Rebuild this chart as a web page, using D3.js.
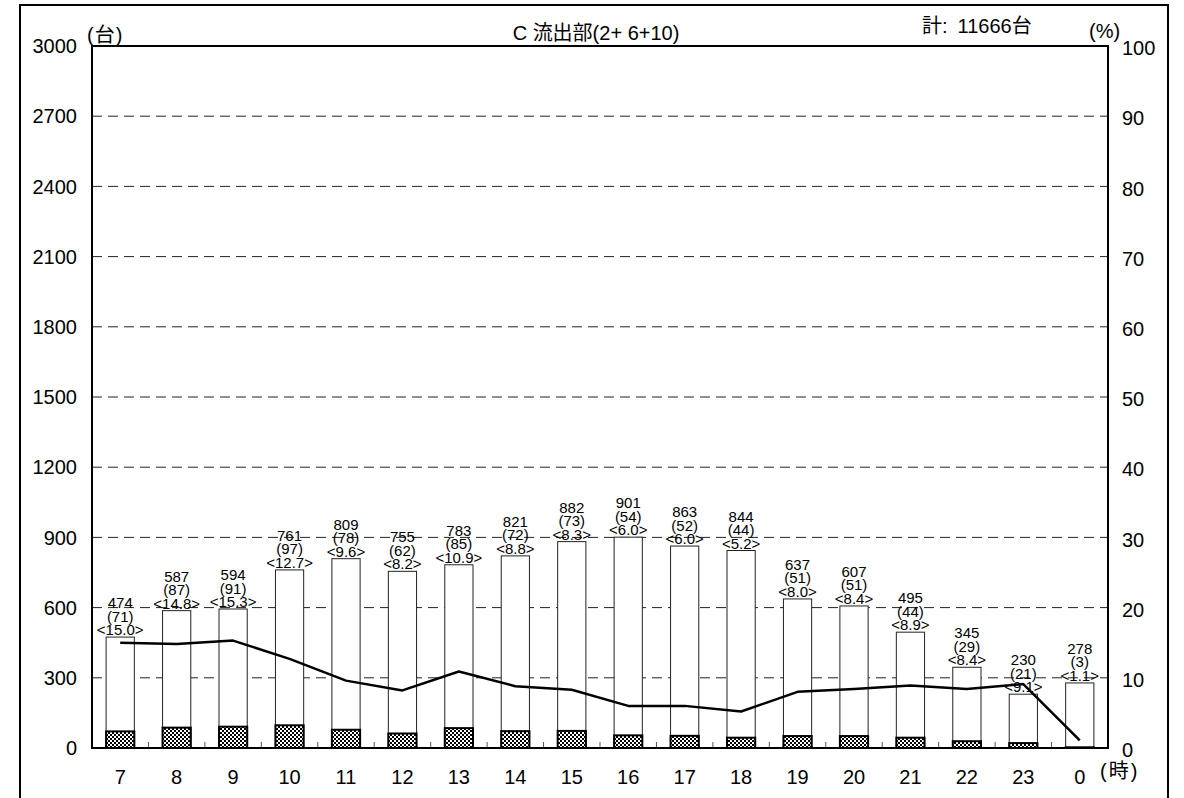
<!DOCTYPE html>
<html><head><meta charset="utf-8">
<script src="https://cdn.jsdelivr.net/npm/d3@7"></script>
<style>
html,body{margin:0;padding:0;background:#fff;}
text{font-family:"Liberation Sans",Arial,"Noto Sans CJK JP",sans-serif;fill:#000;}
</style></head>
<body><svg id="c" width="1184" height="798"></svg>
<script>
const hours = ["7","8","9","10","11","12","13","14","15","16","17","18","19","20","21","22","23","0"];
const totals = [474,587,594,761,809,755,783,821,882,901,863,844,637,607,495,345,230,278];
const large = [71,87,91,97,78,62,85,72,73,54,52,44,51,51,44,29,21,3];
const pct = [15.0,14.8,15.3,12.7,9.6,8.2,10.9,8.8,8.3,6.0,6.0,5.2,8.0,8.4,8.9,8.4,9.1,1.1];
const leftTicks = [0,300,600,900,1200,1500,1800,2100,2400,2700,3000];
const rightTicks = [0,10,20,30,40,50,60,70,80,90,100];
const title = "C 流出部(2+ 6+10)";
const totalPrefix = "計:";
const totalValue = "11666台";

const svg = d3.select("#c");
const L = 92, R = 1108, T = 46, B = 748;

const defs = svg.append("defs");
const pat = defs.append("pattern").attr("id","chk").attr("width",4).attr("height",4)
  .attr("patternUnits","userSpaceOnUse");
pat.append("rect").attr("width",4).attr("height",4).attr("fill","#fff");
pat.append("rect").attr("x",0).attr("y",0).attr("width",2).attr("height",2).attr("fill","#000");
pat.append("rect").attr("x",2).attr("y",2).attr("width",2).attr("height",2).attr("fill","#000");

const x = d3.scaleBand().domain(hours).range([L,R]).paddingInner(0.5).paddingOuter(0.25);
const xc = d3.scalePoint().domain(hours).range([L,R]).padding(0.5);
const y = d3.scaleLinear().domain([0,3000]).range([B,T]);
const y2 = d3.scaleLinear().domain([0,100]).range([B,T]);

// outer frame
svg.append("path").attr("d",`M20,800 L20,5 L1168,5 L1168,800`).attr("fill","none")
  .attr("stroke","#000").attr("stroke-width",2);

// gridlines
svg.append("g").selectAll("line").data(leftTicks.filter(d=>d>0 && d<3000)).join("line")
  .attr("x1",L).attr("x2",R).attr("y1",d=>y(d)).attr("y2",d=>y(d))
  .attr("stroke","#222").attr("stroke-width",1).attr("stroke-dasharray","10,6");

// bars
svg.append("g").selectAll("rect").data(hours).join("rect")
  .attr("x",d=>x(d)).attr("width",x.bandwidth())
  .attr("y",(d,i)=>y(totals[i])).attr("height",(d,i)=>B-y(totals[i]))
  .attr("fill","#fff").attr("stroke","#222").attr("stroke-width",1);
svg.append("g").selectAll("rect").data(hours).join("rect")
  .attr("x",d=>x(d)).attr("width",x.bandwidth())
  .attr("y",(d,i)=>y(large[i])).attr("height",(d,i)=>B-y(large[i]))
  .attr("fill","url(#chk)").attr("stroke","#000").attr("stroke-width",2);

// x tick marks at band boundaries
const step = (R-L)/hours.length;
svg.append("g").selectAll("line").data(hours.slice(1)).join("line")
  .attr("x1",d=>xc(d)-step/2).attr("x2",d=>xc(d)-step/2).attr("y1",B).attr("y2",B-6)
  .attr("stroke","#555").attr("stroke-width",1);

// percentage line
svg.append("path").datum(hours).attr("fill","none").attr("stroke","#000").attr("stroke-width",2.5)
  .attr("stroke-linejoin","round")
  .attr("d",d3.line().x(d=>xc(d)).y((d,i)=>y2(pct[i])));

// labels above bars
const lg = svg.append("g").attr("font-size",15).attr("text-anchor","middle");
hours.forEach((h,i)=>{
  const by = y(totals[i]) - 2;
  const cx = xc(h);
  lg.append("text").attr("x",cx).attr("y",by-27).text(totals[i]);
  lg.append("text").attr("x",cx).attr("y",by-13.5).text("("+large[i]+")");
  lg.append("text").attr("x",cx).attr("y",by).text("<"+pct[i].toFixed(1)+">");
});

// plot frame
svg.append("rect").attr("x",L).attr("y",T).attr("width",R-L).attr("height",B-T)
  .attr("fill","none").attr("stroke","#000").attr("stroke-width",2);

// left axis labels
svg.append("g").selectAll("text").data(leftTicks).join("text")
  .attr("x",77).attr("y",d=>y(d)).attr("dy","0.36em").attr("text-anchor","end")
  .attr("font-size",20).text(d=>d);
// right axis labels
svg.append("g").selectAll("text").data(rightTicks).join("text")
  .attr("x",1122).attr("y",d=>y2(d)+2).attr("dy","0.36em").attr("text-anchor","start")
  .attr("font-size",20).text(d=>d);
// x labels
svg.append("g").selectAll("text").data(hours).join("text")
  .attr("x",d=>xc(d)).attr("y",784).attr("text-anchor","middle")
  .attr("font-size",20).text(d=>d);

svg.append("text").attr("x",87).attr("y",42).attr("font-size",20).attr("letter-spacing",1).text("(台)");
svg.append("text").attr("x",1089).attr("y",38).attr("font-size",20).text("(%)");
svg.append("text").attr("x",1100).attr("y",778).attr("font-size",20).attr("letter-spacing",2).text("(時)");
svg.append("text").attr("x",596).attr("y",40).attr("text-anchor","middle").attr("font-size",20).text(title);
const tt = svg.append("text").attr("x",922).attr("y",33).attr("font-size",20);
tt.append("tspan").text(totalPrefix);
tt.append("tspan").attr("dx",10).text(totalValue);
</script></body></html>
